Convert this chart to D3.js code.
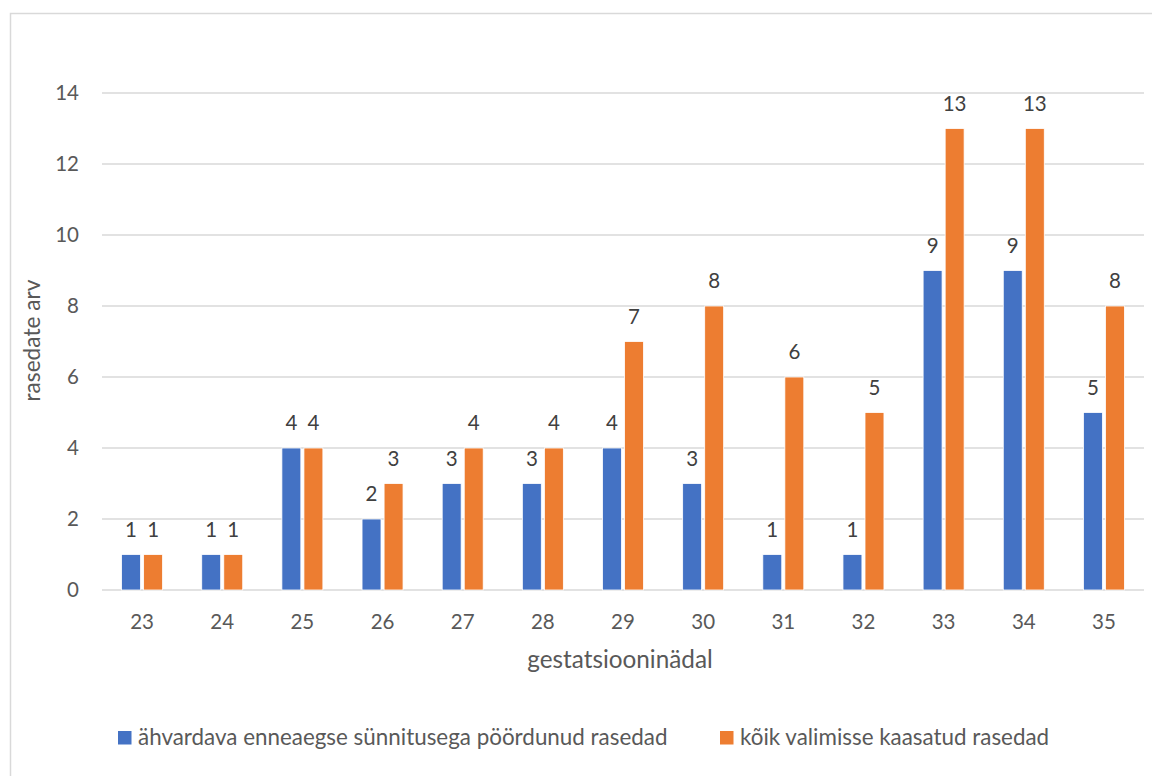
<!DOCTYPE html>
<html>
<head>
<meta charset="utf-8">
<script src="https://cdn.jsdelivr.net/npm/d3@7"></script>
<style>
  html, body { margin: 0; padding: 0; background: #fff; }
  svg { display: block; font-family: Lato, "Open Sans", sans-serif; }
</style>
</head>
<body>
<svg id="chart" width="1152" height="776"></svg>
<script>
// Gestational week categories and counts per group
const weeks = ["23", "24", "25", "26", "27", "28", "29", "30", "31", "32", "33", "34", "35"];
const threatened = [1, 1, 4, 2, 3, 3, 4, 3, 1, 1, 9, 9, 5];
const allIncluded = [1, 1, 4, 3, 4, 4, 7, 8, 6, 5, 13, 13, 8];
const seriesNames = ["ähvardava enneaegse sünnitusega pöördunud rasedad", "kõik valimisse kaasatud rasedad"];
const yTicks = [0, 2, 4, 6, 8, 10, 12, 14];
const colors = ["#4472C4", "#ED7D31"];

const svg = d3.select("#chart");

// outer chart frame
svg.append("rect")
  .attr("x", 10.5).attr("y", 13.5)
  .attr("width", 1150).attr("height", 780)
  .attr("fill", "none").attr("stroke", "#D9D9D9").attr("stroke-width", 1.5);

const plot = { left: 102, right: 1144, top: 93, bottom: 590 };

const x = d3.scaleBand().domain(weeks).range([plot.left, plot.right]).padding(0);
const y = d3.scaleLinear().domain([0, 14]).range([plot.bottom, plot.top]);
const inner = d3.scaleBand().domain([0, 1]).range([-20.5, 20.5]).paddingInner(0.14);

// gridlines
svg.append("g")
  .selectAll("line")
  .data(yTicks)
  .join("line")
  .attr("x1", plot.left).attr("x2", plot.right)
  .attr("y1", d => y(d)).attr("y2", d => y(d))
  .attr("stroke", "#D9D9D9").attr("stroke-width", 1.5);

// y tick labels
svg.append("g")
  .selectAll("text")
  .data(yTicks)
  .join("text")
  .attr("x", 79).attr("y", d => y(d))
  .attr("dy", "0.36em")
  .attr("text-anchor", "end")
  .attr("font-size", 20.5)
  .attr("fill", "#595959")
  .text(d => d);

// x tick labels
svg.append("g")
  .selectAll("text")
  .data(weeks)
  .join("text")
  .attr("x", d => x(d) + x.bandwidth() / 2)
  .attr("y", 629)
  .attr("text-anchor", "middle")
  .attr("font-size", 20.5)
  .attr("fill", "#595959")
  .text(d => d);

// bars and value labels
const series = [threatened, allIncluded];
series.forEach((vals, si) => {
  const g = svg.append("g");
  g.selectAll("rect")
    .data(weeks)
    .join("rect")
    .attr("x", (d, i) => x(d) + x.bandwidth() / 2 + inner(si))
    .attr("width", inner.bandwidth())
    .attr("y", (d, i) => y(vals[i]))
    .attr("height", (d, i) => y(0) - y(vals[i]))
    .attr("fill", colors[si])
    .attr("stroke", "#fff").attr("stroke-width", 0.8);
  g.selectAll("text")
    .data(weeks)
    .join("text")
    .attr("x", (d, i) => x(d) + x.bandwidth() / 2 + inner(si) + inner.bandwidth() / 2)
    .attr("y", (d, i) => y(vals[i]) - 18)
    .attr("text-anchor", "middle")
    .attr("font-size", 20.5)
    .attr("fill", "#404040")
    .text((d, i) => vals[i]);
});

// axis titles
svg.append("text")
  .attr("transform", `translate(40, ${(plot.top + plot.bottom) / 2 - 1}) rotate(-90)`)
  .attr("text-anchor", "middle")
  .attr("font-size", 22.7)
  .attr("fill", "#595959")
  .text("rasedate arv");

svg.append("text")
  .attr("x", (plot.left + plot.right) / 2 - 3)
  .attr("y", 668)
  .attr("text-anchor", "middle")
  .attr("font-size", 24.3)
  .attr("fill", "#595959")
  .text("gestatsiooninädal");

// legend
const legendX = [118, 720];
const legend = svg.append("g")
  .selectAll("g")
  .data(seriesNames)
  .join("g")
  .attr("transform", (d, i) => `translate(${legendX[i]}, 731)`);
legend.append("rect")
  .attr("width", 13.5).attr("height", 13.5)
  .attr("fill", (d, i) => colors[i]);
legend.append("text")
  .attr("x", 20).attr("y", 14)
  .attr("font-size", 22.4)
  .attr("fill", "#595959")
  .text(d => d);
</script>
</body>
</html>
